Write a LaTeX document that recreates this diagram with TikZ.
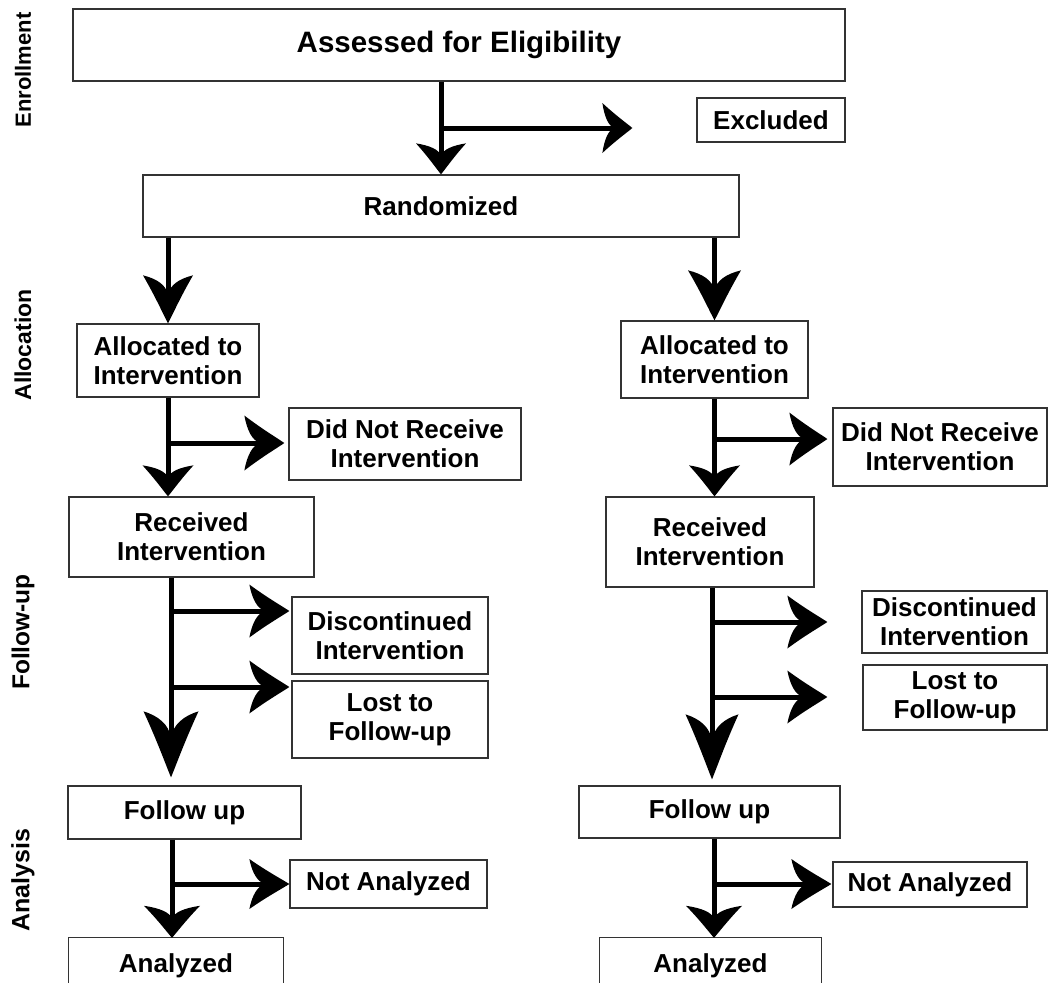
\documentclass[tikz,border=0pt]{standalone}
\usepackage{fontspec}
\setmainfont{Liberation Sans}
\usetikzlibrary{arrows.meta}

% Horn-shaped arrow tip: a solid point with two curved, tapering barbs
\newdimen\hornL
\newdimen\hornW
\newdimen\hornT
\pgfdeclarearrow{
  name = Horn,
  parameters = {\the\pgfarrowlength,\the\pgfarrowwidth},
  setup code = {
    \pgfarrowssettipend{0pt}
    \hornT=\pgfarrowlength
    \hornT=-0.55\hornT
    \pgfarrowssetlineend{\hornT}
    \hornT=\pgfarrowlength
    \hornT=-\hornT
    \pgfarrowssetbackend{\hornT}
    \pgfarrowssavethe\pgfarrowlength
    \pgfarrowssavethe\pgfarrowwidth
  },
  drawing code = {
    \hornL=\pgfarrowlength
    \hornW=\pgfarrowwidth
    \hornW=0.5\hornW
    \pgfpathmoveto{\pgfqpoint{0pt}{0pt}}
    \pgfpathcurveto{\pgfqpoint{-0.2\hornL}{0.2\hornW}}
                   {\pgfqpoint{-0.55\hornL}{0.5\hornW}}
                   {\pgfqpoint{-\hornL}{\hornW}}
    \pgfpathcurveto{\pgfqpoint{-0.93\hornL}{0.45\hornW}}
                   {\pgfqpoint{-0.8\hornL}{0.08\hornW}}
                   {\pgfqpoint{-0.6\hornL}{0pt}}
    \pgfpathcurveto{\pgfqpoint{-0.8\hornL}{-0.08\hornW}}
                   {\pgfqpoint{-0.93\hornL}{-0.45\hornW}}
                   {\pgfqpoint{-\hornL}{-\hornW}}
    \pgfpathcurveto{\pgfqpoint{-0.55\hornL}{-0.5\hornW}}
                   {\pgfqpoint{-0.2\hornL}{-0.2\hornW}}
                   {\pgfqpoint{0pt}{0pt}}
    \pgfpathclose
    \pgfusepathqfill
  },
  defaults = {length = 40pt, width = 52pt}
}

\tikzset{
  box/.style={draw=black!80, line width=1.3pt, fill=white, inner sep=0pt,
    align=center, font=\bfseries\fontsize{26}{29}\selectfont},
  openbox/.style={inner sep=0pt, align=center,
    font=\bfseries\fontsize{26}{29}\selectfont},
  edge/.style={draw=black!80, line width=1.3pt},
  flow/.style={line width=5pt},
  side/.style={font=\bfseries\fontsize{23}{25}\selectfont, rotate=90},
}

\begin{document}
\begin{tikzpicture}[x=1pt, y=-1pt]
\useasboundingbox (0,0) rectangle (1050,994);

% phase labels
\node[side, font=\bfseries\fontsize{22}{24}\selectfont] (lenr) at (23,70)  {Enrollment};
\node[side] (lall) at (23,345) {Allocation};
\node[side, font=\bfseries\fontsize{24.5}{26}\selectfont] (lfol) at (23,632) {Follow-up};
\node[side, font=\bfseries\fontsize{25}{27}\selectfont] (lana) at (23,880) {Analysis};

% enrollment
\node[box, minimum width=772pt, minimum height=72pt,
      font=\bfseries\fontsize{29.5}{32}\selectfont] (assess) at (459,45) {Assessed for Eligibility};
\node[box, minimum width=148pt, minimum height=44pt] (excl) at (771,120) {Excluded};
\node[box, minimum width=596pt, minimum height=62pt] (rand) at (441,206) {Randomized};

% allocation
\node[box, minimum width=182pt, minimum height=73pt] (allocL) at (168,360.5) {Allocated to\\Intervention};
\node[box, minimum width=187pt, minimum height=77pt] (allocR) at (714.5,359.5) {Allocated to\\Intervention};
\node[box, minimum width=232pt, minimum height=72pt] (dnrL) at (405,444) {Did Not Receive\\Intervention};
\node[box, minimum width=214pt, minimum height=78pt] (dnrR) at (940,447) {Did Not Receive\\Intervention};

% follow-up
\node[box, minimum width=245pt, minimum height=80pt] (recvL) at (191.5,537) {Received\\Intervention};
\node[box, minimum width=208pt, minimum height=90pt] (recvR) at (710,542) {Received\\Intervention};
\node[box, minimum width=196pt, minimum height=77pt] (discL) at (390,635.5) {Discontinued\\Intervention};
\node[box, minimum width=196pt, minimum height=77pt] (lostL) at (390,719.5) {Lost to\\Follow-up};
\node[box, minimum width=185pt, minimum height=62pt] (discR) at (954.5,622) {Discontinued\\Intervention};
\node[box, minimum width=184pt, minimum height=65pt] (lostR) at (955,697.5) {Lost to\\Follow-up};

% analysis
\node[box, minimum width=233pt, minimum height=53pt] (fuL) at (184.5,812.5) {Follow up};
\node[box, minimum width=261pt, minimum height=52pt] (fuR) at (709.5,812) {Follow up};
\node[box, minimum width=197pt, minimum height=48pt] (naL) at (388.5,884) {Not Analyzed};
\node[box, minimum width=194pt, minimum height=45pt] (naR) at (930,884.5) {Not Analyzed};
\node[openbox, minimum width=214pt, minimum height=56pt] (anL) at (176,966) {Analyzed};
\node[openbox, minimum width=221pt, minimum height=56pt] (anR) at (710.5,966) {Analyzed};
\draw[edge] ([yshift=-45pt]anL.north west) -- (anL.north west) -- (anL.north east) -- ([yshift=-45pt]anL.north east);
\draw[edge] ([yshift=-45pt]anR.north west) -- (anR.north west) -- (anR.north east) -- ([yshift=-45pt]anR.north east);

% branch points on the vertical flows
\coordinate (bExcl) at (441,128);
\coordinate (bDnrL) at (168,443);
\coordinate (bDnrR) at (714.5,439);
\coordinate (sRecvL) at (171,0);
\coordinate (sRecvR) at (712,0);
\coordinate (bDiscL) at (171,611);
\coordinate (bLostL) at (171,687);
\coordinate (bDiscR) at (712,622);
\coordinate (bLostR) at (712,697);
\coordinate (sFuL) at (172,0);
\coordinate (sFuR) at (714,0);
\coordinate (bNaL) at (172,884);
\coordinate (bNaR) at (714,884);

% main flow
\draw[flow, -{Horn[length=31pt,width=50pt]}] (assess.south -| rand.north) -- (rand.north);
\draw[flow, -{Horn[length=30pt,width=50pt]}, shorten >=64pt] (bExcl) -- (bExcl -| excl.west);
\draw[flow, -{Horn[length=48pt,width=50pt]}] (rand.south -| allocL.north) -- (allocL.north);
\draw[flow, -{Horn[length=50pt,width=53pt]}] (rand.south -| allocR.north) -- (allocR.north);

\draw[flow, -{Horn[length=31pt,width=51pt]}] (allocL.south) -- (allocL.south |- recvL.north);
\draw[flow, -{Horn[length=40pt,width=55pt]}, shorten >=4pt] (bDnrL) -- (bDnrL -| dnrL.west);
\draw[flow, -{Horn[length=31pt,width=51pt]}] (allocR.south) -- (allocR.south |- recvR.north);
\draw[flow, -{Horn[length=38pt,width=53pt]}, shorten >=5pt] (bDnrR) -- (bDnrR -| dnrR.west);

\draw[flow, -{Horn[length=66pt,width=55pt]}, shorten >=8pt] (recvL.south -| sRecvL) -- (sRecvL |- fuL.north);
\draw[flow, -{Horn[length=40pt,width=53pt]}, shorten >=2pt] (bDiscL) -- (bDiscL -| discL.west);
\draw[flow, -{Horn[length=40pt,width=53pt]}, shorten >=2pt] (bLostL) -- (bLostL -| lostL.west);
\draw[flow, -{Horn[length=65pt,width=53pt]}, shorten >=6pt] (recvR.south -| sRecvR) -- (sRecvR |- fuR.north);
\draw[flow, -{Horn[length=40pt,width=53pt]}, shorten >=34pt] (bDiscR) -- (bDiscR -| discR.west);
\draw[flow, -{Horn[length=40pt,width=53pt]}, shorten >=35pt] (bLostR) -- (bLostR -| lostR.west);

\draw[flow, -{Horn[length=32pt,width=56pt]}] (fuL.south -| sFuL) -- (sFuL |- anL.north);
\draw[flow, -{Horn[length=40pt,width=50pt]}] (bNaL) -- (bNaL -| naL.west);
\draw[flow, -{Horn[length=32pt,width=56pt]}] (fuR.south -| sFuR) -- (sFuR |- anR.north);
\draw[flow, -{Horn[length=40pt,width=50pt]}, shorten >=1pt] (bNaR) -- (bNaR -| naR.west);
\end{tikzpicture}
\end{document}
